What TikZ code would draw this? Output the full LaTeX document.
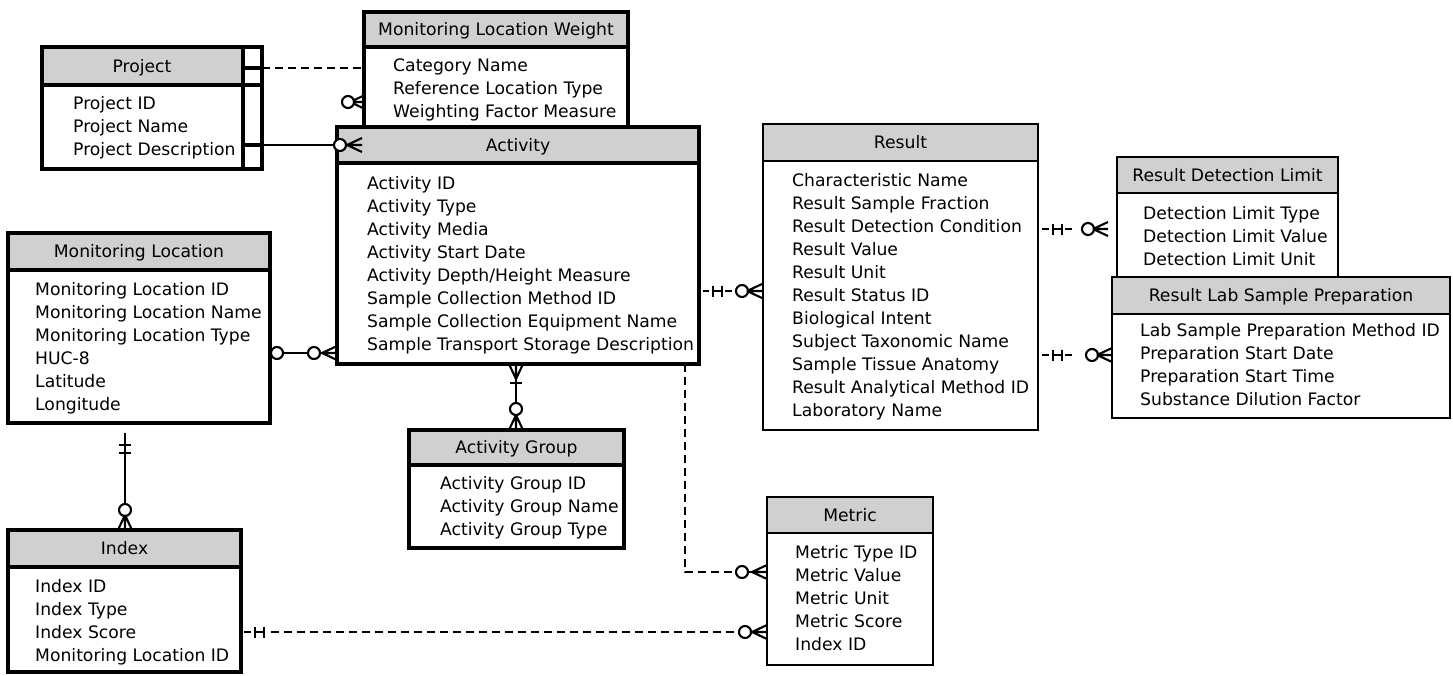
\documentclass[tikz,border=0pt]{standalone}
\usepackage{fontspec}
\setmainfont{DejaVu Sans}
\definecolor{hdrgray}{RGB}{208,208,208}
\newcommand\efont{\fontsize{17.2}{23}\selectfont}
\tikzset{
  thickbox/.style={line width=3.8pt},
  thinbox/.style={line width=1.5pt},
  ttl/.style={inner sep=0pt, anchor=base, font=\efont},
  itm/.style={inner sep=0pt, anchor=base west, font=\efont},
  conn/.style={line width=2.1pt},
  dconn/.style={line width=2.3pt, dash pattern=on 8pt off 5pt},
}
% entity box: name, style, x1, y1, x2, y2, header bottom, title
\newcommand\ebox[8]{%
  \node[fill=white, anchor=north west, inner sep=0pt, outer sep=0pt,
        minimum width={(#5-#3)*1pt}, minimum height={(#6-#4)*1pt}] (#1) at (#3,#4) {};
  \fill[hdrgray] (#3,#4) rectangle (#5,#7);
  \draw[#2] (#1.north west) rectangle (#1.south east);
  \draw[#2] (#3,#7) -- (#5,#7);
  \node[ttl] (#1-title) at ({(#3+#5)/2},{(#4+#7)/2+6}) {#8};
}
% items: name, x, first centre y, list
\newcommand\eitems[4]{%
  \foreach \t [count=\i] in {#4} {\node[itm] (#1-\i) at (#2,{#3+6+23*(\i-1)}) {\t};}
}
% prongs of a crow's foot, tip at (x,y), approach angle
\newcommand\prongs[3]{%
  \begin{scope}[shift={(#1,#2)}, rotate=#3]
    \draw[conn] (-15,0) -- (0,7) (-15,0) -- (0,0) (-15,0) -- (0,-7);
  \end{scope}}
\newcommand\ocirc[2]{\draw[conn, fill=white] (#1,#2) circle [radius=6];}
\newcommand\twobars[3]{%
  \begin{scope}[shift={(#1,#2)}, rotate=#3]
    \draw[conn] (0,-5.5) -- (0,5.5) (9,-5.5) -- (9,5.5) (0,0) -- (9,0);
  \end{scope}}
\begin{document}
\begin{tikzpicture}[x=1pt, y=-1pt]
\useasboundingbox (0,0) rectangle (1453,675);

% Project (special double border)
\node[fill=white, anchor=north west, inner sep=0pt, outer sep=0pt,
      minimum width=220pt, minimum height=122pt] (proj) at (42,47) {};
\fill[hdrgray] (42,47) rectangle (243,85);
\draw[thickbox] (proj.north west) rectangle (proj.south east);
\draw[thickbox] (243,47) -- (243,169);
\draw[thickbox] (42,85) -- (262,85);
\draw[thickbox] (243,68) -- (262,68) (243,145) -- (262,145);
\node[ttl] (proj-title) at (142,72) {Project};
\eitems{proj}{73}{103}{Project ID,Project Name,Project Description}

% Monitoring Location Weight
\ebox{mlw}{thickbox}{364}{12}{628}{127}{47}{Monitoring Location Weight}
\eitems{mlw}{393}{65}{Category Name,Reference Location Type,Weighting Factor Measure}

% Activity
\ebox{act}{thickbox}{337}{127}{699}{364}{163}{Activity}
\eitems{act}{367}{183}{Activity ID,Activity Type,Activity Media,Activity Start Date,Activity Depth/Height Measure,Sample Collection Method ID,Sample Collection Equipment Name,Sample Transport Storage Description}

% Monitoring Location
\ebox{ml}{thickbox}{8}{233}{270}{423}{270}{Monitoring Location}
\eitems{ml}{35}{289}{Monitoring Location ID,Monitoring Location Name,Monitoring Location Type,HUC-8,Latitude,Longitude}

% Index
\ebox{idx}{thickbox}{8}{530}{241}{672}{567}{Index}
\eitems{idx}{35}{586}{Index ID,Index Type,Index Score,Monitoring Location ID}

% Activity Group
\ebox{ag}{thickbox}{409}{430}{624}{548}{465}{Activity Group}
\eitems{ag}{440}{483}{Activity Group ID,Activity Group Name,Activity Group Type}

% Result
\ebox{res}{thinbox}{763}{124}{1038}{430}{161}{Result}
\eitems{res}{792}{180}{Characteristic Name,Result Sample Fraction,Result Detection Condition,Result Value,Result Unit,Result Status ID,Biological Intent,Subject Taxonomic Name,Sample Tissue Anatomy,Result Analytical Method ID,Laboratory Name}

% Result Detection Limit
\ebox{rdl}{thinbox}{1117}{157}{1338}{277}{193}{Result Detection Limit}
\eitems{rdl}{1143}{213}{Detection Limit Type,Detection Limit Value,Detection Limit Unit}

% Result Lab Sample Preparation
\ebox{rlsp}{thinbox}{1112}{277}{1450}{418}{314}{Result Lab Sample Preparation}
\eitems{rlsp}{1140}{330}{Lab Sample Preparation Method ID,Preparation Start Date,Preparation Start Time,Substance Dilution Factor}

% Metric
\ebox{met}{thinbox}{767}{497}{933}{665}{533}{Metric}
\eitems{met}{795}{552}{Metric Type ID,Metric Value,Metric Unit,Metric Score,Index ID}

% ---------- connectors ----------
% Project -- Monitoring Location Weight (dashed)
\draw[dconn] (proj.east |- 0,68) -- (mlw.west |- 0,68);
% crow's foot at Monitoring Location Weight
\draw[conn] (mlw.west |- 0,102) ++(-12,0) -- (mlw.west |- 0,102);
\prongs{365}{102}{0}
\ocirc{348}{102}

% Project -- Activity
\draw[conn] (proj.east |- 0,145) -- (362,145);
\prongs{362}{145}{0}
\ocirc{340}{145}

% Monitoring Location -- Activity
\draw[conn] (ml.east |- 0,353) -- (act.west |- 0,353);
\ocirc{277}{353}
\ocirc{314}{353}
\prongs{337}{353}{0}

% Activity -- Activity Group
\draw[conn] (act.south -| 516,0) -- (ag.north -| 516,0);
\prongs{516}{364}{90}
\draw[conn] (510,383) -- (522,383);
\ocirc{516}{409}
\prongs{516}{430}{-90}

% Monitoring Location -- Index
\draw[conn] (125,433) -- (idx.north -| 125,0);
\draw[conn] (119,445) -- (131,445) (119,453) -- (131,453);
\ocirc{125}{510}
\prongs{125}{530}{-90}

% Activity -- Result
\draw[conn] (703,291) -- (709,291) (725,291) -- (732,291) (737,291) -- (res.west |- 0,291);
\twobars{713}{291}{0}
\ocirc{742}{291}
\prongs{762}{291}{0}

% Result -- Result Detection Limit
\draw[conn] (1042,229) -- (1049,229) (1065,229) -- (1072,229) (1082,229) -- (1108,229);
\twobars{1053}{229}{0}
\ocirc{1088}{229}
\prongs{1108}{229}{0}

% Result -- Result Lab Sample Preparation
\draw[conn] (1042,355) -- (1049,355) (1065,355) -- (1072,355) (1086,355) -- (rlsp.west |- 0,355);
\twobars{1053}{355}{0}
\ocirc{1092}{355}
\prongs{1112}{355}{0}

% Activity -- Metric (dashed)
\draw[dconn] (act.south -| 685,0) -- (685,572) -- (737,572);
\draw[conn] (737,572) -- (met.west |- 0,572);
\ocirc{742}{572}
\prongs{767}{572}{0}

% Index -- Metric (dashed)
\draw[conn] (244,632) -- (251,632);
\twobars{255}{632}{0}
\draw[dconn] (271,632) -- (740,632);
\draw[conn] (740,632) -- (met.west |- 0,632);
\ocirc{745}{632}
\prongs{767}{632}{0}
\end{tikzpicture}
\end{document}
